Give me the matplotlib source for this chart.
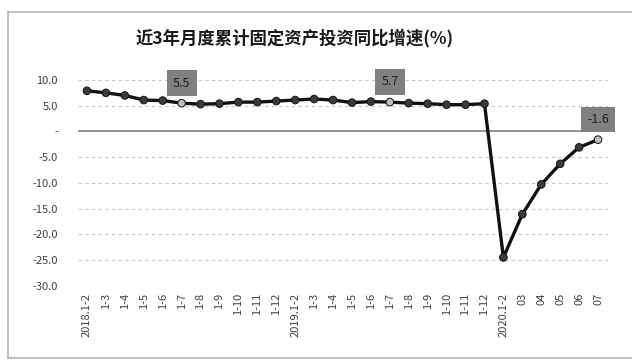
import matplotlib
matplotlib.use("Agg")
import matplotlib.pyplot as plt
from matplotlib.lines import Line2D

plt.rcParams['font.family'] = ['Noto Sans CJK SC', 'DejaVu Sans']

# 月度累计固定资产投资同比增速
months = ['2018.1-2', '1-3', '1-4', '1-5', '1-6', '1-7', '1-8', '1-9', '1-10', '1-11', '1-12',
          '2019.1-2', '1-3', '1-4', '1-5', '1-6', '1-7', '1-8', '1-9', '1-10', '1-11', '1-12',
          '2020.1-2', '03', '04', '05', '06', '07']
growth = [7.9, 7.5, 7.0, 6.1, 6.0, 5.5, 5.3, 5.4, 5.7, 5.7, 5.9,
          6.1, 6.3, 6.1, 5.6, 5.8, 5.7, 5.5, 5.4, 5.2, 5.2, 5.4,
          -24.5, -16.1, -10.3, -6.3, -3.1, -1.6]
labelled = [5, 16, 27]
yticks = [10, 5, 0, -5, -10, -15, -20, -25, -30]
ytick_labels = ['10.0', '5.0', '-', '-5.0', '-10.0', '-15.0', '-20.0', '-25.0', '-30.0']

fig = plt.figure(figsize=(6.32, 3.64), dpi=100)
W, H = 632, 364

# 图表外框
frame_color = '#b4b4b4'
fig.add_artist(Line2D([8 / W, 8 / W], [1 - 12 / H, 1 - 358 / H], color=frame_color, lw=1.2))
fig.add_artist(Line2D([8 / W, 1.0], [1 - 12 / H, 1 - 12 / H], color=frame_color, lw=1.2))
fig.add_artist(Line2D([8 / W, 1.0], [1 - 358 / H, 1 - 358 / H], color=frame_color, lw=1.2))

ax = fig.add_axes([77.5 / W, 1 - 285.7 / H, 530 / W, (285.7 - 80) / H])
x = list(range(len(months)))

for t in yticks:
    if t == 0:
        ax.axhline(0, color='#8a8a8a', lw=1.3, zorder=1)
    else:
        ax.axhline(t, color='#c8c8c8', lw=0.8, ls=(0, (3, 3)), zorder=1)

ax.plot(x, growth, color='#111111', lw=2.4, zorder=3)
face = ['#bdbdbd' if i in labelled else '#3a3a3a' for i in x]
ax.scatter(x, growth, s=30, c=face, edgecolors='#151515', linewidths=0.7, zorder=4)

for i in labelled:
    ax.annotate(f'{growth[i]:.1f}', (x[i], growth[i]), xytext=(0, 14.5),
                textcoords='offset points', ha='center', va='center', fontsize=9,
                color='#1e1e1e',
                bbox=dict(boxstyle='square,pad=0.5', facecolor='#808080', edgecolor='none'),
                zorder=5)

ax.set_xlim(-0.5, len(months) - 0.5)
ax.set_ylim(-30, 10)
ax.set_yticks(yticks)
ax.set_yticklabels(ytick_labels)
ax.set_xticks(x)
ax.set_xticklabels(months, rotation=90)
ax.tick_params(axis='both', length=0, labelsize=8, colors='#404040')
ax.tick_params(axis='y', pad=14)
ax.tick_params(axis='x', pad=5)
for s in ax.spines.values():
    s.set_visible(False)

fig.text(295 / W, 1 - 38 / H, '近3年月度累计固定资产投资同比增速(%)', ha='center', va='center',
         fontsize=12.5, fontweight='bold', color='#1a1a1a')

fig.savefig('out.png', dpi=100)
